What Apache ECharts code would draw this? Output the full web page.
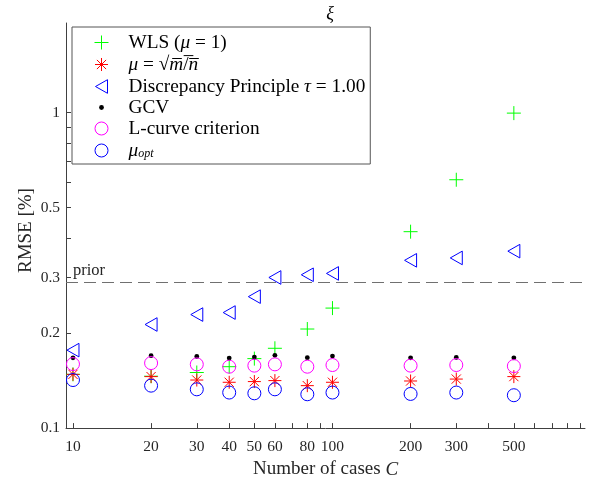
<!DOCTYPE html>
<html><head><meta charset="utf-8">
<script src="https://cdn.jsdelivr.net/npm/echarts@6/dist/echarts.min.js"></script>
<style>html,body{margin:0;padding:0;background:#fff}#c{width:590px;height:484px}</style>
</head><body><div id="c"></div>
<script>
// ---- data ----
var cases = [10, 20, 30, 40, 50, 60, 80, 100, 200, 300, 500];
var wls = [0.148, 0.146, 0.150, 0.1565, 0.166, 0.179, 0.206, 0.240, 0.419, 0.612, 0.995];
var sqrtMN = [0.148, 0.1456, 0.142, 0.1397, 0.1404, 0.1414, 0.1363, 0.1397, 0.1410, 0.1430, 0.1456];
var discrepancy = [0.1766, 0.2129, 0.2289, 0.2323, 0.2609, 0.3000, 0.306, 0.309, 0.340, 0.346, 0.3635];
var gcv = [0.167, 0.1696, 0.1687, 0.1667, 0.1679, 0.1700, 0.1671, 0.1691, 0.167, 0.1675, 0.167];
var lcurve = [0.1595, 0.1607, 0.1592, 0.1565, 0.1577, 0.1592, 0.1565, 0.1584, 0.1577, 0.1584, 0.1572];
var muOpt = [0.142, 0.1363, 0.1327, 0.1296, 0.1289, 0.1327, 0.1280, 0.1296, 0.1283, 0.1296, 0.1271];
var prior = 0.29;
var xTickLabels = [10, 20, 30, 40, 50, 60, 80, 100, 200, 300, 500];
var xTicks = [10, 20, 30, 40, 50, 60, 70, 80, 90, 100, 200, 300, 400, 500, 600, 700, 800, 900];
var yTickLabels = [0.1, 0.2, 0.3, 0.5, 1];
var yTicks = [0.1, 0.2, 0.3, 0.4, 0.5, 0.6, 0.7, 0.8, 0.9, 1];

// ---- styling ----
var FONT = 'Liberation Serif';
var AX = '#404040';
var BOX = 'M0,0M16,16';
var SYM = {
  plus: 'path://' + BOX + 'M1,8L15,8M8,1L8,15',
  star: 'path://' + BOX + 'M1.5,8L14.5,8M8,1.5L8,14.5M3.4,3.4L12.6,12.6M3.4,12.6L12.6,3.4',
  tri: 'path://' + BOX + 'M2,8L14,1.2L14,14.8Z',
  dot: 'path://' + BOX + 'M5.6,8A2.4,2.4,0,1,1,10.4,8A2.4,2.4,0,1,1,5.6,8Z',
  circ: 'path://' + BOX + 'M1.5,8A6.5,6.5,0,1,1,14.5,8A6.5,6.5,0,1,1,1.5,8Z'
};
var defs = [
  {name: 'WLS', data: wls, sym: SYM.plus, fill: 'none', stroke: '#00ff00'},
  {name: 'sqrt', data: sqrtMN, sym: SYM.star, fill: 'none', stroke: '#ff0000'},
  {name: 'DP', data: discrepancy, sym: SYM.tri, fill: 'none', stroke: '#0000ff'},
  {name: 'GCV', data: gcv, sym: SYM.dot, fill: '#000000', stroke: 'none'},
  {name: 'L', data: lcurve, sym: SYM.circ, fill: 'none', stroke: '#ff00ff'},
  {name: 'opt', data: muOpt, sym: SYM.circ, fill: 'none', stroke: '#0000ff'}
];
var labels = {
  WLS: 'WLS ({i|μ} = 1)',
  sqrt: '{i|μ} = √{i|m̅}/̅{i|n̅}',
  DP: 'Discrepancy Principle {i|τ} = 1.00',
  GCV: 'GCV',
  L: 'L-curve criterion',
  opt: '{i|μ}{sub|opt}'
};
var series = defs.map(function (d, k) {
  var s = {
    name: d.name, type: 'scatter', symbol: d.sym, symbolSize: 16,
    data: cases.map(function (c, i) { return [c, d.data[i]]; }),
    itemStyle: {color: d.fill, borderColor: d.stroke, borderWidth: d.stroke === 'none' ? 0 : 1, opacity: 1},
    emphasis: {disabled: true}, z: 3 + k
  };
  if (k === 0) {
    s.markLine = {
      silent: true, symbol: 'none', animation: false,
      lineStyle: {color: '#707070', type: [12, 6], width: 1},
      label: {show: true, position: 'insideStartTop', formatter: 'prior', fontFamily: FONT, fontSize: 16.5, color: '#262626', distance: [7, 3]},
      data: [{yAxis: prior}]
    };
  }
  return s;
});
var chart = echarts.init(document.getElementById('c'), null, {renderer: 'canvas'});
chart.setOption({
  animation: false,
  backgroundColor: '#fff',
  title: {text: 'ξ', left: 325, top: 0, textAlign: 'center',
    textStyle: {fontFamily: FONT, fontStyle: 'italic', fontWeight: 'normal', fontSize: 18, color: '#000'}},
  grid: {left: 66, right: 5, top: 23, bottom: 54, containLabel: false},
  legend: {
    orient: 'vertical', left: 72, top: 27,
    padding: [5, 5, 3, 19], itemGap: 1, itemWidth: 44, itemHeight: 16,
    backgroundColor: '#fff', borderColor: '#555', borderWidth: 1, borderRadius: 0,
    selectedMode: false,
    data: defs.map(function (d) {
      return {name: d.name, icon: d.sym,
        itemStyle: {color: d.fill, borderColor: d.stroke, borderWidth: d.stroke === 'none' ? 0 : 1}};
    }),
    formatter: function (n) { return labels[n]; },
    textStyle: {fontFamily: FONT, fontSize: 19.3, color: '#000', lineHeight: 16,
      rich: {i: {fontFamily: FONT, fontSize: 19.3, fontStyle: 'italic', color: '#000', lineHeight: 16},
             sub: {fontFamily: FONT, fontSize: 12, fontStyle: 'italic', color: '#000', lineHeight: 10, padding: [6, 0, 0, 0]}}}
  },
  xAxis: {
    type: 'log', logBase: 10, min: 9.4, max: 940,
    name: 'Number of cases {i|C}', nameLocation: 'middle', nameGap: 28,
    nameTextStyle: {fontFamily: FONT, fontSize: 19, color: '#262626',
      rich: {i: {fontFamily: FONT, fontSize: 19, fontStyle: 'italic', color: '#262626'}}},
    axisLine: {show: true, lineStyle: {color: AX, width: 1}},
    axisTick: {show: true, inside: true, length: 5, lineStyle: {color: AX}, customValues: xTicks},
    axisLabel: {show: true, customValues: xTickLabels, margin: 11, fontFamily: FONT, fontSize: 15.5, color: '#262626',
      formatter: function (v) { return String(Math.round(v)); }},
    splitLine: {show: false}, minorTick: {show: false}
  },
  yAxis: {
    type: 'log', logBase: 10, min: 0.1, max: 1.92,
    name: 'RMSE [%]', nameLocation: 'middle', nameGap: 30, nameRotate: 90, nameMoveOverlap: false,
    nameTextStyle: {fontFamily: FONT, fontSize: 19, color: '#262626', padding: [0, 10, 0, 0]},
    axisLine: {show: true, lineStyle: {color: AX, width: 1}},
    axisTick: {show: true, inside: true, length: 5, lineStyle: {color: AX}, customValues: yTicks},
    axisLabel: {show: true, customValues: yTickLabels, margin: 6, fontFamily: FONT, fontSize: 15.5, color: '#262626',
      formatter: function (v) { return String(Math.round(v * 10) / 10); }},
    splitLine: {show: false}, minorTick: {show: false}
  },
  series: series
});
</script></body></html>
